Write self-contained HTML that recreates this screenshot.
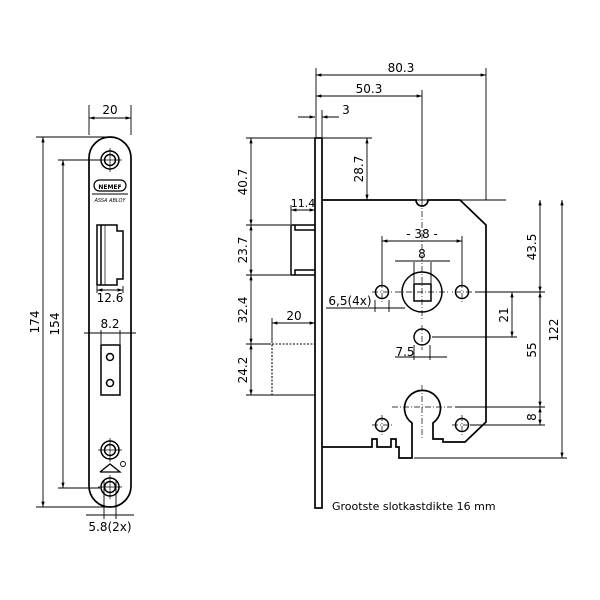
<!DOCTYPE html>
<html><head><meta charset="utf-8"><style>
html,body{margin:0;padding:0;background:#fff}
svg{display:block}
text{font-family:"DejaVu Sans","Liberation Sans",sans-serif;font-size:12px;fill:#000}
</style></head><body>
<svg width="600" height="600" viewBox="0 0 600 600" xmlns="http://www.w3.org/2000/svg">
<defs>
<marker id="a" viewBox="0 0 10 10" refX="10" refY="5" markerWidth="6" markerHeight="6" orient="auto-start-reverse"><path d="M0,2 L10,5 L0,8z" fill="#000"/></marker>
</defs>
<g stroke="#000" fill="none" stroke-width="1.5">
<!-- LEFT FACEPLATE -->
<path d="M89,158 A21,21 0 0 1 131,158 L131,486 A21,21 0 0 1 89,486 Z" stroke-width="1.7"/>
<circle cx="110" cy="160" r="9"/><circle cx="110" cy="160" r="5.5"/>
<circle cx="110" cy="450" r="9"/><circle cx="110" cy="450" r="5.5"/>
<circle cx="110" cy="487" r="9"/><circle cx="110" cy="487" r="5.5"/>
<g stroke-width="0.7"><line x1="110" y1="148" x2="110" y2="172"/><line x1="98" y1="160" x2="122" y2="160"/>
<line x1="110" y1="438" x2="110" y2="462"/><line x1="98" y1="450" x2="122" y2="450"/>
<line x1="110" y1="475" x2="110" y2="499"/><line x1="98" y1="487" x2="122" y2="487"/></g>
<rect x="94" y="180" width="32" height="11" rx="5.5" stroke-width="1.2"/>
<line x1="92" y1="194" x2="128" y2="194" stroke-width="0.9"/>
<!-- latch hole -->
<path d="M97,225 L117,225 L117,231 L123,231 L123,279 L117,279 L117,285 L97,285 Z M101,225 L101,285"/>
<line x1="105" y1="225" x2="105" y2="285" stroke-width="0.7"/>
<!-- rect -->
<rect x="101" y="345" width="19" height="50"/>
<circle cx="110" cy="357" r="3.5"/><circle cx="110" cy="383" r="3.5"/>
<!-- logo -->
<path d="M100,472 L110,464 L120,472 L100,472" stroke-width="1.3"/>
<circle cx="123" cy="464" r="2.5" stroke-width="0.9"/>
<!-- dims left -->
<g stroke-width="0.9">
<line x1="89" y1="105" x2="89" y2="135"/><line x1="131" y1="105" x2="131" y2="135"/>
<line x1="89" y1="118" x2="131" y2="118" marker-start="url(#a)" marker-end="url(#a)"/>
<line x1="36" y1="137" x2="110" y2="137"/><line x1="36" y1="507" x2="110" y2="507"/>
<line x1="43" y1="137" x2="43" y2="507" marker-start="url(#a)" marker-end="url(#a)"/>
<line x1="58" y1="160" x2="100" y2="160"/><line x1="58" y1="488" x2="100" y2="488"/>
<line x1="63" y1="160" x2="63" y2="488" marker-start="url(#a)" marker-end="url(#a)"/>
<line x1="97" y1="286" x2="97" y2="293"/><line x1="123" y1="286" x2="123" y2="293"/>
<line x1="97" y1="290" x2="123" y2="290" marker-start="url(#a)" marker-end="url(#a)"/>
<line x1="84" y1="333" x2="136" y2="333"/>
<line x1="101" y1="330" x2="101" y2="344"/><line x1="120" y1="330" x2="120" y2="344"/>
<line x1="104" y1="480" x2="104" y2="519"/><line x1="116" y1="480" x2="116" y2="519"/>
<line x1="86" y1="515" x2="134" y2="515"/>
</g>
<!-- RIGHT LOCK -->
<rect x="315" y="138" width="7" height="370" stroke-width="1.7"/>
<path d="M322,200 L416,200 A6,6 0 0 0 428,200 L460,200 L486,225 L486,422 L465,442 L443,442 L443,439 L433,439 L433,423 A18,18 0 1 0 412,423 L412,448 L412,458 L399,458 L399,447 L396,447 L396,439 L391,439 L391,447 L377,447 L377,439 L372,439 L372,447 L322,447" stroke-width="1.7"/>
<circle cx="422" cy="292" r="20"/><rect x="414" y="284" width="17" height="17"/>
<circle cx="382" cy="292" r="6.5"/><circle cx="462" cy="292" r="6.5"/>
<circle cx="422" cy="337" r="8"/>
<circle cx="382" cy="425" r="6.5"/><circle cx="462" cy="425" r="6.5"/>
<!-- latch -->
<path d="M315,225 L291,225 L291,275 L315,275 M295,225 L295,230 L315,230 M295,275 L295,270 L315,270" stroke-width="1.5"/>
<rect x="272" y="344" width="43" height="51" stroke-dasharray="2,1.5" stroke-width="1.1"/>
<!-- center lines -->
<g stroke-width="0.7" stroke-dasharray="6,2,1,2">
<line x1="422" y1="200" x2="422" y2="320"/><line x1="395" y1="292" x2="450" y2="292"/>
<line x1="372" y1="292" x2="392" y2="292"/><line x1="472" y1="292" x2="452" y2="292"/>
<line x1="382" y1="282" x2="382" y2="302"/><line x1="462" y1="282" x2="462" y2="302"/>
<line x1="422" y1="325" x2="422" y2="350"/>
<line x1="422" y1="385" x2="422" y2="438"/><line x1="392" y1="407" x2="452" y2="407"/>
<line x1="382" y1="415" x2="382" y2="435"/><line x1="372" y1="425" x2="392" y2="425"/>
<line x1="462" y1="415" x2="462" y2="435"/><line x1="452" y1="425" x2="472" y2="425"/>
</g>
<g stroke-width="0.9">
<line x1="316" y1="68" x2="316" y2="137"/><line x1="486" y1="68" x2="486" y2="200"/>
<line x1="316" y1="75" x2="486" y2="75" marker-start="url(#a)" marker-end="url(#a)"/>
<line x1="422" y1="90" x2="422" y2="200"/>
<line x1="316" y1="96" x2="422" y2="96" marker-start="url(#a)" marker-end="url(#a)"/>
<line x1="298" y1="117" x2="315" y2="117" marker-end="url(#a)"/><line x1="339" y1="117" x2="322" y2="117" marker-end="url(#a)"/>
<line x1="322" y1="110" x2="322" y2="137"/>
<line x1="323" y1="138" x2="372" y2="138"/>
<line x1="367" y1="138" x2="367" y2="200" marker-start="url(#a)" marker-end="url(#a)"/>
<line x1="246" y1="138" x2="314" y2="138"/><line x1="246" y1="225" x2="290" y2="225"/>
<line x1="246" y1="275" x2="290" y2="275"/><line x1="246" y1="344" x2="271" y2="344"/><line x1="246" y1="395" x2="314" y2="395"/>
<line x1="251" y1="138" x2="251" y2="225" marker-start="url(#a)" marker-end="url(#a)"/>
<line x1="251" y1="225" x2="251" y2="275" marker-start="url(#a)" marker-end="url(#a)"/>
<line x1="251" y1="275" x2="251" y2="344" marker-start="url(#a)" marker-end="url(#a)"/>
<line x1="251" y1="344" x2="251" y2="395" marker-start="url(#a)" marker-end="url(#a)"/>
<line x1="291" y1="205" x2="291" y2="224"/>
<line x1="291" y1="210" x2="315" y2="210" marker-start="url(#a)" marker-end="url(#a)"/>
<line x1="272" y1="318" x2="272" y2="343"/>
<line x1="272" y1="323" x2="315" y2="323" marker-start="url(#a)" marker-end="url(#a)"/>
<line x1="382" y1="236" x2="382" y2="284"/><line x1="462" y1="236" x2="462" y2="284"/>
<line x1="382" y1="241" x2="462" y2="241" marker-start="url(#a)" marker-end="url(#a)"/>
<line x1="414" y1="262" x2="414" y2="283"/><line x1="431" y1="262" x2="431" y2="283"/>
<line x1="395" y1="261" x2="450" y2="261"/>
<line x1="375" y1="300" x2="375" y2="312"/><line x1="389" y1="300" x2="389" y2="312"/>
<line x1="326" y1="308" x2="405" y2="308"/>
<line x1="414" y1="345" x2="414" y2="360"/><line x1="430" y1="345" x2="430" y2="360"/>
<line x1="395" y1="357" x2="447" y2="357"/>
<line x1="322" y1="200" x2="506" y2="200"/>
<line x1="475" y1="292" x2="545" y2="292"/>
<line x1="432" y1="337" x2="517" y2="337"/>
<line x1="455" y1="407" x2="545" y2="407"/><line x1="470" y1="425" x2="545" y2="425"/>
<line x1="414" y1="458" x2="567" y2="458"/>
<line x1="540" y1="200" x2="540" y2="292" marker-start="url(#a)" marker-end="url(#a)"/>
<line x1="540" y1="292" x2="540" y2="407" marker-start="url(#a)" marker-end="url(#a)"/>
<line x1="540" y1="407" x2="540" y2="425" marker-start="url(#a)" marker-end="url(#a)"/>
<line x1="562" y1="200" x2="562" y2="458" marker-start="url(#a)" marker-end="url(#a)"/>
<line x1="512" y1="292" x2="512" y2="337" marker-start="url(#a)" marker-end="url(#a)"/>
</g>
</g>
<g>
<text x="110" y="114" text-anchor="middle">20</text>
<text x="110" y="302" text-anchor="middle">12.6</text>
<text x="110" y="328" text-anchor="middle">8.2</text>
<text x="110" y="531" text-anchor="middle">5.8(2x)</text>
<text transform="translate(39,322) rotate(-90)" text-anchor="middle">174</text>
<text transform="translate(59,324) rotate(-90)" text-anchor="middle">154</text>
<text x="110" y="189" text-anchor="middle" style="font-size:6px;font-weight:bold">NEMEF</text>
<text x="110" y="202" text-anchor="middle" style="font-size:5px;font-style:italic">ASSA ABLOY</text>
<text x="401" y="72" text-anchor="middle">80.3</text>
<text x="369" y="93" text-anchor="middle">50.3</text>
<text x="346" y="114" text-anchor="middle">3</text>
<text transform="translate(363,169) rotate(-90)" text-anchor="middle">28.7</text>
<text transform="translate(247,182) rotate(-90)" text-anchor="middle">40.7</text>
<text transform="translate(247,250) rotate(-90)" text-anchor="middle">23.7</text>
<text transform="translate(247,310) rotate(-90)" text-anchor="middle">32.4</text>
<text transform="translate(247,370) rotate(-90)" text-anchor="middle">24.2</text>
<text x="303" y="207" text-anchor="middle" style="font-size:11px">11.4</text>
<text x="294" y="320" text-anchor="middle">20</text>
<text x="422" y="238" text-anchor="middle">- 38 -</text>
<text x="422" y="258" text-anchor="middle">8</text>
<text x="350" y="305" text-anchor="middle">6,5(4x)</text>
<text x="405" y="356" text-anchor="middle">7.5</text>
<text transform="translate(536,247) rotate(-90)" text-anchor="middle">43.5</text>
<text transform="translate(536,350) rotate(-90)" text-anchor="middle">55</text>
<text transform="translate(536,417) rotate(-90)" text-anchor="middle">8</text>
<text transform="translate(558,330) rotate(-90)" text-anchor="middle">122</text>
<text transform="translate(508,315) rotate(-90)" text-anchor="middle">21</text>
<text x="332" y="510" style="font-size:11px">Grootste slotkastdikte 16 mm</text>
</g>
</svg>
</body></html>
